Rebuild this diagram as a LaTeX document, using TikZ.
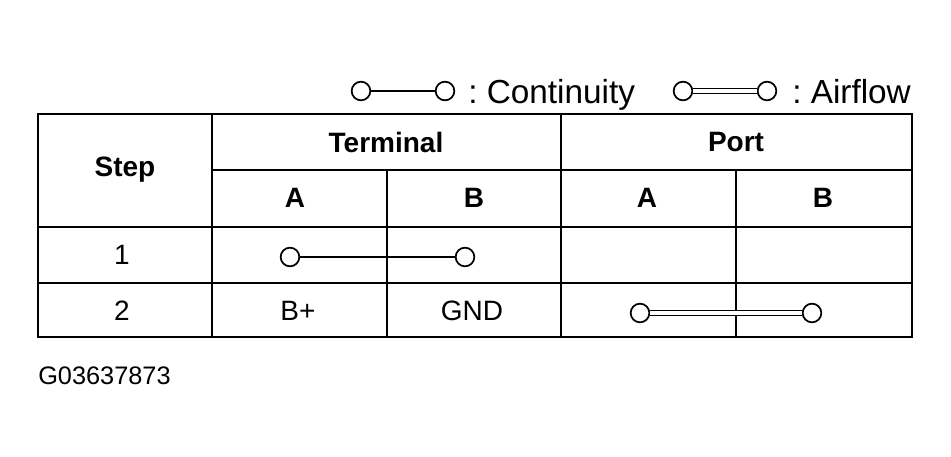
\documentclass[tikz,border=0pt]{standalone}
\usepackage{fontspec}
\setmainfont{Liberation Sans}
\begin{document}
\begin{tikzpicture}[x=0.75pt,y=-0.75pt,
    txt/.style={inner sep=0pt,font=\fontsize{21}{24}\selectfont},
    head/.style={txt,font=\fontsize{21}{24}\selectfont\bfseries},
    legend/.style={txt,anchor=base west,font=\fontsize{25}{28}\selectfont},
    term/.style={circle,draw,line width=1.3pt,minimum size=14pt,inner sep=0pt},
    wire/.style={line width=1.3pt},
    pipe/.style={double,double distance=2.6pt,line width=1.1pt}]
  \useasboundingbox (0,0) rectangle (951,457);
  % legend
  \node[term] (l1) at (361,91) {};
  \node[term] (l2) at (445,91) {};
  \draw[wire] (l1) -- (l2);
  \node[legend] (lc) at (468,103) {:\ Continuity};
  \node[term] (l3) at (683,91) {};
  \node[term] (l4) at (767,91) {};
  \draw[pipe] (l3) -- (l4);
  \node[legend] (la) at (792,103) {:\ Airflow};
  % table grid
  \draw[line width=2pt] (38,114) rectangle (912,337);
  \draw[line width=1.5pt] (212,114) -- (212,337);
  \draw[line width=1.5pt] (561,114) -- (561,337);
  \draw[line width=1.3pt] (387,170) -- (387,337);
  \draw[line width=1.3pt] (736,170) -- (736,337);
  \draw[line width=1.3pt] (212,170) -- (912,170);
  \draw[line width=1.5pt] (38,227) -- (912,227);
  \draw[line width=1.3pt] (38,283) -- (912,283);
  % headers
  \node[head] (step) at (125,170) {Step};
  \node[head] (terminal) at (386,142) {Terminal};
  \node[head] (port) at (736,142) {Port};
  \node[head] (ta) at (295,198) {A};
  \node[head] (tb) at (474,198) {B};
  \node[head] (pa) at (647,198) {A};
  \node[head] (pb) at (823,198) {B};
  % rows
  \node[txt] (r1) at (122,255) {1};
  \node[txt] (r2) at (122,311) {2};
  \node[term] (c1) at (290,257) {};
  \node[term] (c2) at (465,257) {};
  \draw[wire] (c1) -- (c2);
  \node[txt] (bp) at (298,311) {B+};
  \node[txt] (gnd) at (472,311) {GND};
  \node[term] (p1) at (640,313) {};
  \node[term] (p2) at (812,313) {};
  \draw[pipe] (p1) -- (p2);
  % code
  \node[txt,anchor=west,font=\fontsize{19}{22}\selectfont] (code) at (38,376) {G03637873};
\end{tikzpicture}
\end{document}
